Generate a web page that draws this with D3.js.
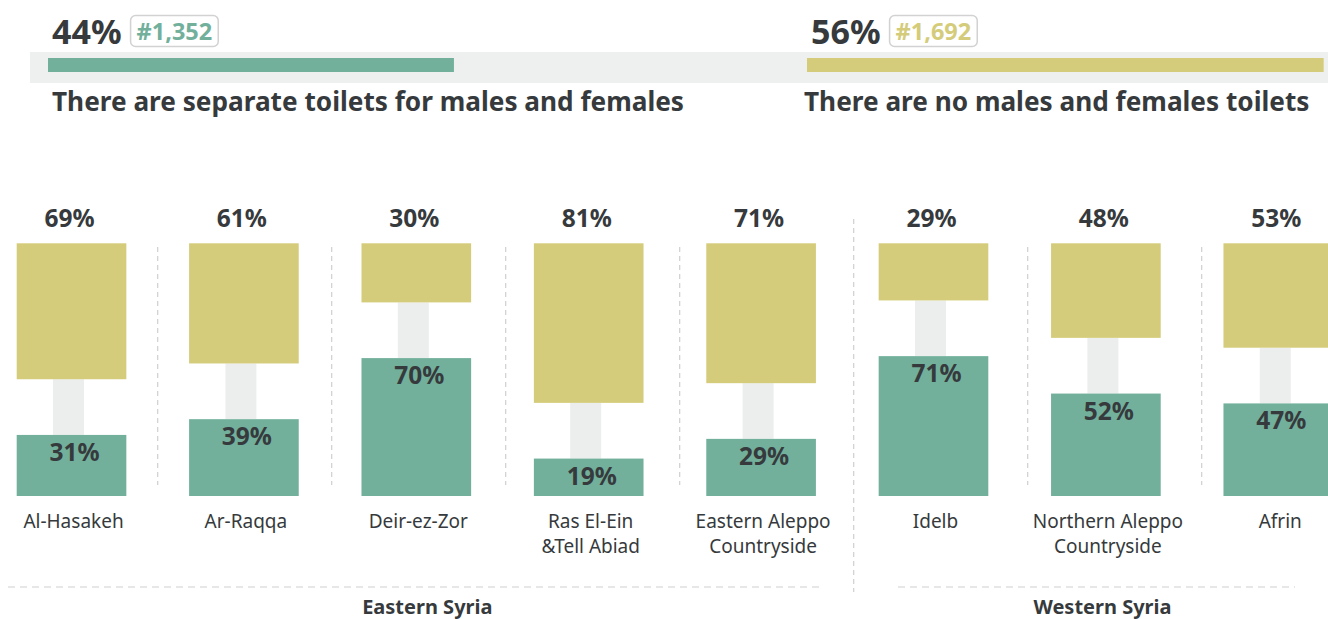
<!DOCTYPE html>
<html>
<head>
<meta charset="utf-8">
<script src="https://cdn.jsdelivr.net/npm/d3@7"></script>
<style>
  html, body { margin: 0; padding: 0; background: #ffffff; }
  svg { display: block; font-family: "Noto Sans", "Open Sans", sans-serif; }
</style>
</head>
<body>
<svg id="chart" width="1328" height="619"></svg>
<script>
// Overall split between the two answers
const summaryLabels = ["There are separate toilets for males and females", "There are no males and females toilets"];
const summaryPct = [44, 56];
const summaryCounts = ["#1,352", "#1,692"];

// Per-governorate breakdown
const regions = ["Al-Hasakeh", "Ar-Raqqa", "Deir-ez-Zor", "Ras El-Ein\n&Tell Abiad", "Eastern Aleppo\nCountryside",
                 "Idelb", "Northern Aleppo\nCountryside", "Afrin"];
const noSeparate = [69, 61, 30, 81, 71, 29, 48, 53];
const separate = [31, 39, 70, 19, 29, 71, 52, 47];
const groupNames = ["Eastern Syria", "Western Syria"];
const groupOf = [0, 0, 0, 0, 0, 1, 1, 1];

const GREEN = "#72b09c", YELLOW = "#d4cc7a", BAND = "#eef0ef", LINK = "#eceeed";
const DARK = "#363a3c", DASH = "#cfcfcf";

const svg = d3.select("#chart");

// ---- Summary strip ----
const sx = d3.scaleLinear().domain([0, 100]).range([0, 922.6]);
const summaryLeft = [48, 807];

svg.append("rect").attr("x", 30).attr("y", 52).attr("width", 1298).attr("height", 31).attr("fill", BAND);

summaryPct.forEach((p, i) => {
  const color = i === 0 ? GREEN : YELLOW;
  const x0 = summaryLeft[i];
  svg.append("rect").attr("x", x0).attr("y", 58).attr("width", sx(p)).attr("height", 14).attr("fill", color);

  const pct = svg.append("text").attr("x", x0 + 4).attr("y", 43.5)
    .attr("font-size", 34).attr("font-weight", 700).attr("fill", DARK).text(p + "%");
  const pw = pct.node().getComputedTextLength();

  const bx = x0 + 4 + pw + 9;
  const badge = svg.append("g");
  const bt = badge.append("text").attr("x", bx + 6).attr("y", 39.5)
    .attr("font-size", 23.5).attr("font-weight", 700).attr("fill", color).text(summaryCounts[i]);
  const bw = bt.node().getComputedTextLength();
  badge.insert("rect", "text").attr("x", bx).attr("y", 15.5).attr("width", bw + 12).attr("height", 31)
    .attr("rx", 5).attr("fill", "#fff").attr("stroke", "#d2d2d2").attr("stroke-width", 1.5);

  svg.append("text").attr("x", x0 + 4 - (i === 0 ? 0 : 7)).attr("y", 111)
    .attr("font-size", 26.2).attr("font-weight", 700).attr("fill", DARK).text(summaryLabels[i]);
});

// ---- Region bars ----
const x = d3.scaleBand().domain(regions).range([16.7, 1333.1]).paddingInner(0.364).paddingOuter(0);
const h = d3.scaleLinear().domain([0, 100]).range([0, 197]);
const TOP = 243.3, BOTTOM = 496;
const linkW = 31;

// vertical separators between regions
const sep = d3.scaleLinear().domain([0, 6]).range([157.7, 1201.7]);
d3.range(7).forEach(i => {
  const major = i === 4;
  svg.append("line").attr("x1", sep(i)).attr("x2", sep(i))
    .attr("y1", major ? 219 : 247).attr("y2", major ? 592 : 485)
    .attr("stroke", DASH).attr("stroke-width", 1.2).attr("stroke-dasharray", "5,4");
});

const g = svg.append("g").selectAll("g").data(regions).join("g");

// grey connector between the two blocks
g.append("rect")
  .attr("x", d => x(d) + x.bandwidth() / 2 - linkW / 2 - 3)
  .attr("y", (d, i) => TOP + h(noSeparate[i]))
  .attr("width", linkW)
  .attr("height", (d, i) => (BOTTOM - h(separate[i])) - (TOP + h(noSeparate[i])))
  .attr("fill", LINK);

g.append("rect")
  .attr("x", d => x(d)).attr("y", TOP)
  .attr("width", x.bandwidth()).attr("height", (d, i) => h(noSeparate[i]))
  .attr("fill", YELLOW);

g.append("rect")
  .attr("x", d => x(d)).attr("y", (d, i) => BOTTOM - h(separate[i]))
  .attr("width", x.bandwidth()).attr("height", (d, i) => h(separate[i]))
  .attr("fill", GREEN);

g.append("text")
  .attr("x", d => x(d) + x.bandwidth() / 2 - 2).attr("y", 226.5)
  .attr("text-anchor", "middle").attr("font-size", 24.5).attr("font-weight", 700).attr("fill", DARK)
  .text((d, i) => noSeparate[i] + "%");

g.append("text")
  .attr("x", d => x(d) + x.bandwidth() / 2 + 3).attr("y", (d, i) => BOTTOM - h(separate[i]) + 26)
  .attr("text-anchor", "middle").attr("font-size", 24.5).attr("font-weight", 700).attr("fill", DARK)
  .text((d, i) => separate[i] + "%");

const lab = g.append("text")
  .attr("text-anchor", "middle").attr("font-size", 19).attr("fill", DARK);
lab.each(function (d) {
  const cx = x(d) + x.bandwidth() / 2 + 2;
  d.split("\n").forEach((line, k) => {
    d3.select(this).append("tspan").attr("x", cx).attr("y", 527.5 + k * 25).text(line);
  });
});

// ---- Region groups ----
const groupSpan = [[8, 823], [898, 1295]];
groupNames.forEach((name, k) => {
  const idx = groupOf.map((v, i) => v === k ? i : -1).filter(i => i >= 0);
  const [a, b] = groupSpan[k];
  svg.append("line").attr("x1", a).attr("x2", b).attr("y1", 587).attr("y2", 587)
    .attr("stroke", DASH).attr("stroke-width", 1.2).attr("stroke-dasharray", "7,5");
  const first = x(regions[idx[0]]), last = x(regions[idx[idx.length - 1]]) + x.bandwidth();
  svg.append("text").attr("x", k === 0 ? (first + last) / 2 + 11 : (a + b) / 2 + 6).attr("y", 613.5)
    .attr("text-anchor", "middle").attr("font-size", 20).attr("font-weight", 700).attr("fill", DARK)
    .text(name);
});
</script>
</body>
</html>
